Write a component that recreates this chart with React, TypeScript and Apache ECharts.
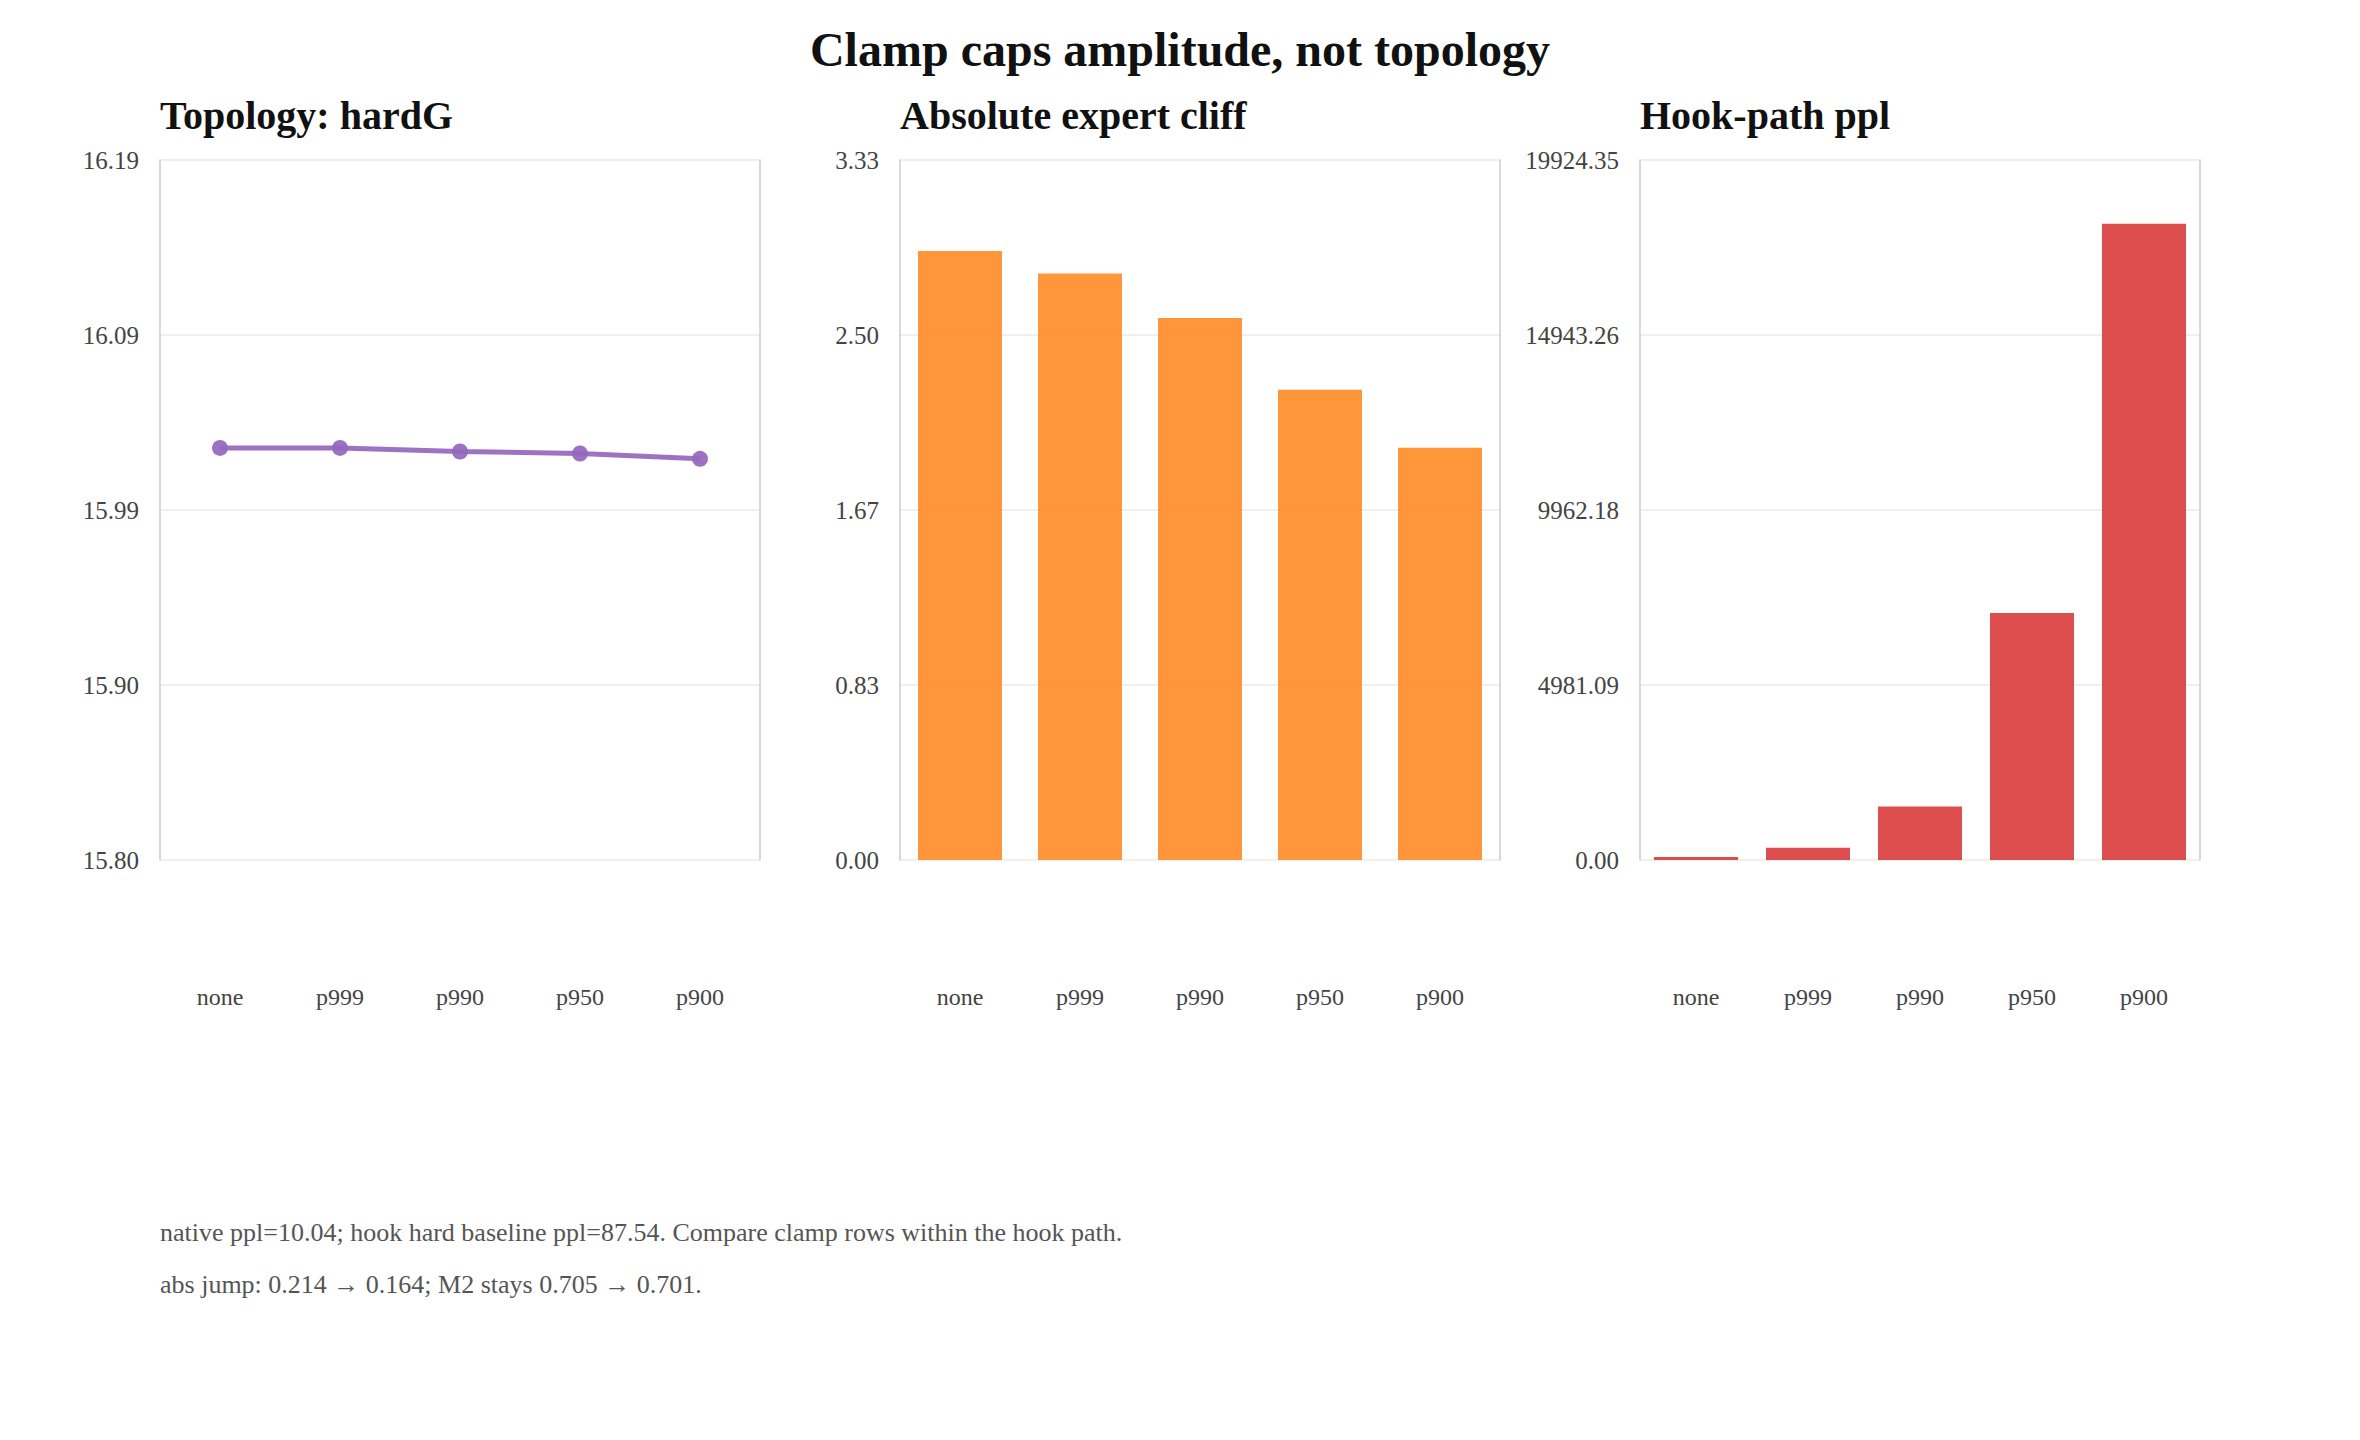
import React, { useEffect, useRef } from "react";
import * as echarts from "echarts";

const categories = ["none", "p999", "p990", "p950", "p900"];
const hardGValues = [16.0296, 16.0296, 16.0276, 16.0265, 16.0235];
const cliffValues = [2.897, 2.79, 2.578, 2.237, 1.961];
const hookPplValues = [87.54, 348, 1525, 7029, 18113];

const hardGTicks = [15.8, 15.8975, 15.995, 16.0925, 16.19];
const hardGTickLabels = ["15.80", "15.90", "15.99", "16.09", "16.19"];
const cliffTicks = [0, 0.8325, 1.665, 2.4975, 3.33];
const cliffTickLabels = ["0.00", "0.83", "1.67", "2.50", "3.33"];
const hookTicks = [0, 4981.0875, 9962.175, 14943.2625, 19924.35];
const hookTickLabels = ["0.00", "4981.09", "9962.18", "14943.26", "19924.35"];

const mainTitle = "Clamp caps amplitude, not topology";
const panelTitles = ["Topology: hardG", "Absolute expert cliff", "Hook-path ppl"];
const footerLines = [
  "native ppl=10.04; hook hard baseline ppl=87.54. Compare clamp rows within the hook path.",
  "abs jump: 0.214 \u2192 0.164; M2 stays 0.705 \u2192 0.701.",
];

const FONT = '"Liberation Serif", "Times New Roman", Times, serif';

const grids = [
  { left: 160, top: 160, width: 600, height: 700 },
  { left: 900, top: 160, width: 600, height: 700 },
  { left: 1640, top: 160, width: 560, height: 700 },
];

function makeFormatter(ticks: number[], labels: string[]) {
  const range = ticks[ticks.length - 1] - ticks[0];
  return (v: number) => {
    const i = ticks.findIndex((t) => Math.abs(t - v) < range * 1e-6);
    return i >= 0 ? labels[i] : v.toFixed(2);
  };
}

function yPair(gridIndex: number, ticks: number[], labels: string[]) {
  const min = ticks[0];
  const max = ticks[ticks.length - 1];
  return [
    {
      type: "value",
      gridIndex,
      min,
      max,
      position: "left",
      axisLine: { show: true, lineStyle: { color: "#cccccc", width: 1.5 } },
      axisTick: { show: false, customValues: ticks },
      axisLabel: {
        customValues: ticks,
        formatter: makeFormatter(ticks, labels),
        color: "#444444",
        fontSize: 25,
        fontFamily: FONT,
        margin: 21,
      },
      splitLine: { show: true, lineStyle: { color: "#ebebeb", width: 1.5 } },
    },
    {
      type: "value",
      gridIndex,
      min,
      max,
      position: "right",
      axisLine: { show: true, lineStyle: { color: "#cccccc", width: 1.5 } },
      axisTick: { show: false },
      axisLabel: { show: false },
      splitLine: { show: false },
    },
  ];
}

function xAxisFor(gridIndex: number) {
  return {
    type: "category",
    gridIndex,
    data: categories,
    boundaryGap: true,
    axisLine: { show: false },
    axisTick: { show: false },
    splitLine: { show: false },
    axisLabel: {
      color: "#444444",
      fontSize: 24,
      fontFamily: FONT,
      margin: 125,
      interval: 0,
    },
  };
}

export default function App() {
  const ref = useRef<HTMLDivElement>(null);

  useEffect(() => {
    if (!ref.current) return;
    const chart = echarts.init(ref.current, undefined, { renderer: "svg" });

    const graphics: any[] = [
      {
        type: "text",
        x: 1180,
        y: 49,
        style: {
          text: mainTitle,
          fill: "#111111",
          fontSize: 48,
          fontWeight: "bold",
          fontFamily: FONT,
          align: "center",
          verticalAlign: "middle",
          textAlign: "center",
          textVerticalAlign: "middle",
        },
      },
      ...panelTitles.map((t, i) => ({
        type: "text",
        x: grids[i].left,
        y: 115,
        style: {
          text: t,
          fill: "#111111",
          fontSize: 40,
          fontWeight: "bold",
          fontFamily: FONT,
          align: "left",
          verticalAlign: "middle",
          textAlign: "left",
          textVerticalAlign: "middle",
        },
      })),
      ...footerLines.map((t, i) => ({
        type: "text",
        x: 160,
        y: 1232 + i * 52,
        style: {
          text: t,
          fill: "#555555",
          fontSize: 26,
          fontFamily: FONT,
          align: "left",
          verticalAlign: "middle",
          textAlign: "left",
          textVerticalAlign: "middle",
        },
      })),
    ];

    const option: any = {
      animation: false,
      backgroundColor: "#ffffff",
      textStyle: { fontFamily: FONT },
      grid: grids.map((g) => ({ ...g, containLabel: false })),
      xAxis: [xAxisFor(0), xAxisFor(1), xAxisFor(2)],
      yAxis: [
        ...yPair(0, hardGTicks, hardGTickLabels),
        ...yPair(1, cliffTicks, cliffTickLabels),
        ...yPair(2, hookTicks, hookTickLabels),
      ],
      series: [
        {
          type: "line",
          xAxisIndex: 0,
          yAxisIndex: 0,
          data: hardGValues,
          symbol: "circle",
          symbolSize: 16,
          lineStyle: { color: "#9467bd", width: 5, opacity: 0.92 },
          itemStyle: { color: "#9467bd", opacity: 0.92 },
        },
        {
          type: "bar",
          xAxisIndex: 1,
          yAxisIndex: 2,
          data: cliffValues,
          barWidth: 84,
          itemStyle: { color: "#ff7f0e", opacity: 0.82 },
        },
        {
          type: "bar",
          xAxisIndex: 2,
          yAxisIndex: 4,
          data: hookPplValues,
          barWidth: 84,
          itemStyle: { color: "#d62728", opacity: 0.82 },
        },
      ],
      graphic: graphics,
    };

    chart.setOption(option);
    return () => chart.dispose();
  }, []);

  return (
    <div
      ref={ref}
      style={{ position: "fixed", left: 0, top: 0, width: 2360, height: 1440, background: "#fff" }}
    />
  );
}
